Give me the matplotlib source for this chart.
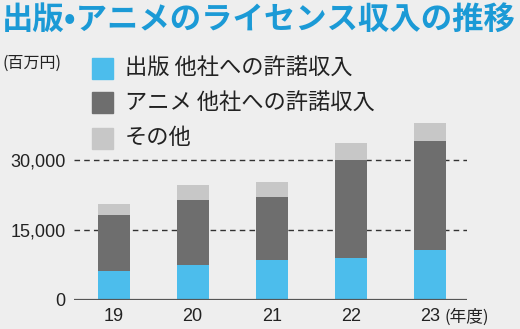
import matplotlib
matplotlib.use("Agg")
import matplotlib.pyplot as plt
from matplotlib.patches import Rectangle

plt.rcParams["font.family"] = ["Liberation Sans", "Noto Sans CJK JP", "DejaVu Sans"]

# values in million yen
years = ["19", "20", "21", "22", "23"]
publishing = [6200, 7500, 8500, 8900, 10800]
anime = [12100, 14000, 13500, 21100, 23300]
other = [2300, 3100, 3300, 3700, 3800]

series_names = ["出版 他社への許諾収入", "アニメ 他社への許諾収入", "その他"]
yticks = [0, 15000, 30000]
ytick_labels = ["0", "15,000", "30,000"]

BG = "#eeeeee"
BLUE = "#4cbdec"
DARK = "#6e6e6e"
LIGHT = "#c7c7c7"
TITLE = "#1b9ad6"
INK = "#222222"
CJK = ["Noto Sans CJK JP", "DejaVu Sans"]

W, H = 520, 329
fig = plt.figure(figsize=(W / 100, H / 100), dpi=100, facecolor=BG)
ax = fig.add_axes([74 / W, 29 / H, 393 / W, 180 / H])
ax.set_facecolor(BG)

x = range(len(years))
bottom2 = [a + b for a, b in zip(publishing, anime)]
ax.bar(x, publishing, width=0.405, color=BLUE, zorder=2)
ax.bar(x, anime, width=0.405, bottom=publishing, color=DARK, zorder=2)
ax.bar(x, other, width=0.405, bottom=bottom2, color=LIGHT, zorder=2)

ax.set_xlim(-0.5, 4.47)
ax.set_ylim(0, 38571)
for v in yticks[1:]:
    ax.axhline(v, color="#333333", lw=1.0, ls=(0, (4, 3)), zorder=1)
ax.axhline(0, color="#555555", lw=1.6, zorder=3)

ax.set_yticks(yticks)
ax.set_yticklabels(ytick_labels)
ax.set_xticks(list(x))
ax.set_xticklabels(years)
ax.tick_params(axis="y", length=0, pad=6, labelsize=13, colors=INK)
ax.tick_params(axis="x", length=0, pad=6, labelsize=13, colors=INK)
for s in ax.spines.values():
    s.set_visible(False)

fig.text(445 / W, 1 - 317 / H, "(年度)", family=CJK, fontsize=12,
         color=INK, ha="left", va="center")

fig.text(2 / W, 1 - 20 / H, "出版•アニメのライセンス収入の推移", family=CJK,
         fontsize=22.6, fontweight="bold", color=TITLE, ha="left", va="center")
fig.text(3 / W, 1 - 63 / H, "(百万円)", family=CJK, fontsize=11.5,
         color=INK, ha="left", va="center")

for name, col, yc in zip(series_names, [BLUE, DARK, LIGHT], [68, 103, 138]):
    fig.add_artist(Rectangle((92 / W, 1 - (yc + 10.5) / H), 21 / W, 21 / H,
                             transform=fig.transFigure, color=col))
    fig.text(125 / W, 1 - yc / H, name, family=CJK, fontsize=16,
             color=INK, ha="left", va="center")

fig.savefig("out.png", dpi=100, facecolor=BG)
